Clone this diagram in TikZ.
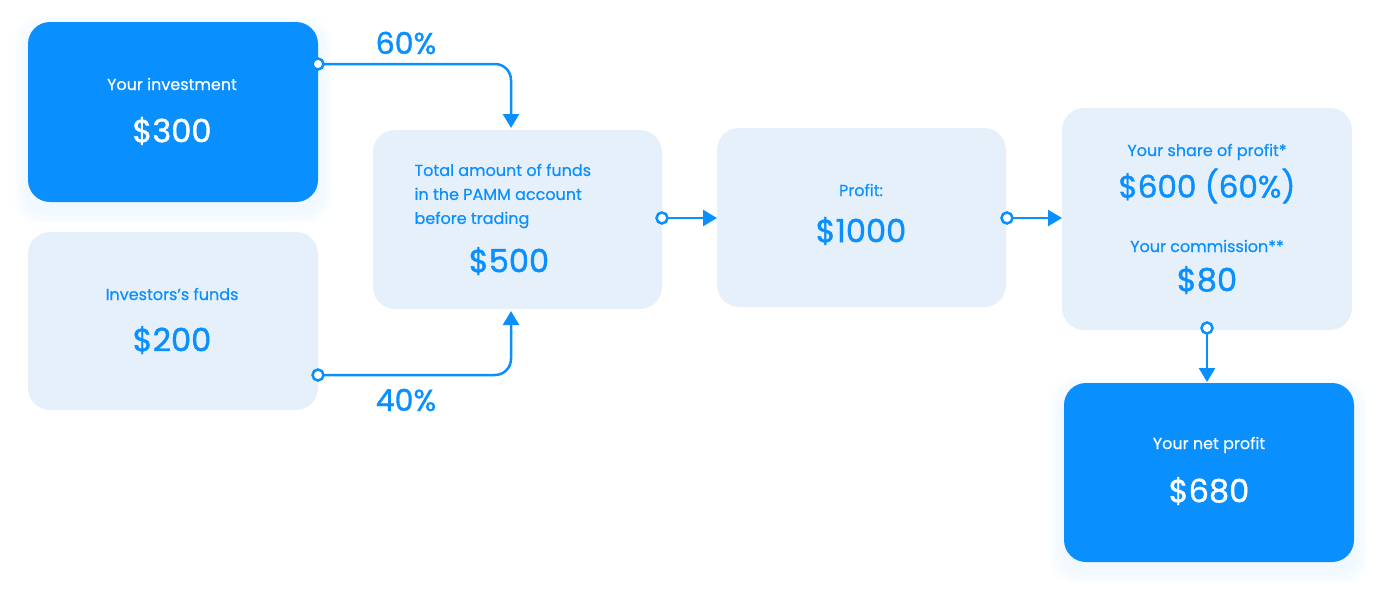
\documentclass[tikz,border=0pt]{standalone}
\usepackage{fontspec}
\setmainfont{Poppins}
\newfontfamily\labelfont{Poppins}[FakeBold=0.5]
\newfontfamily\valuefont{Poppins}[FakeBold=1.2]
\usetikzlibrary{arrows.meta}

\definecolor{pammblue}{HTML}{0A8FFF}
\definecolor{pammlight}{HTML}{E5F0FB}

\tikzset{
  darkbox/.style={fill=pammblue, rounded corners=22pt, inner sep=0pt},
  lightbox/.style={fill=pammlight, rounded corners=22pt, inner sep=0pt},
  flow/.style={draw=pammblue, line width=2.5pt, -{Triangle[width=16pt,length=14pt]}, rounded corners=16pt},
  port/.style={draw=pammblue, fill=white, line width=2.5pt},
  small/.style={font=\labelfont\fontsize{16}{24}\selectfont},
  big/.style={font=\valuefont\fontsize{32}{36}\selectfont},
  pct/.style={font=\valuefont\fontsize{30}{32}\selectfont, text=pammblue},
}

\begin{document}
\begin{tikzpicture}[x=1pt, y=-1pt]
  \useasboundingbox (0,0) rectangle (1382,597);

  % soft glow under the dark boxes
  \foreach \g in {3,6,...,15} {
    \fill[pammblue, opacity=0.012, rounded corners=26pt] (28-\g,22-\g+8) rectangle (318+\g,202+\g+8);
    \fill[pammblue, opacity=0.012, rounded corners=26pt] (1064-\g,383-\g+8) rectangle (1354+\g,562+\g+8);
  }

  % boxes
  \node[darkbox, minimum width=290pt, minimum height=180pt] (invest) at (173,112) {};
  \node[lightbox, minimum width=290pt, minimum height=178pt] (funds) at (173,321) {};
  \node[lightbox, minimum width=289pt, minimum height=179pt] (total) at (517.5,219.5) {};
  \node[lightbox, minimum width=289pt, minimum height=179pt] (profit) at (861.5,217.5) {};
  \node[lightbox, minimum width=290pt, minimum height=222pt] (share) at (1207,219) {};
  \node[darkbox, minimum width=290pt, minimum height=179pt] (net) at (1209,472.5) {};

  % texts
  \node[small, text=white] (investlbl) at (172,84) {Your investment};
  \node[big, text=white] (investval) at (172,131) {\$300};
  \node[small, text=pammblue] (fundslbl) at (172,294) {Investors’s funds};
  \node[big, text=pammblue] (fundsval) at (172,340) {\$200};
  \node[small, text=pammblue, align=left, anchor=west] (totallbl) at (411,196) {Total amount of funds\\in the PAMM account\\before trading};
  \node[big, text=pammblue] (totalval) at (509,261) {\$500};
  \node[small, text=pammblue] (profitlbl) at (861,190) {Profit:};
  \node[big, text=pammblue] (profitval) at (861,231) {\$1000};
  \node[small, text=pammblue] (sharelbl) at (1207,152) {Your share of profit*};
  \node[big, font=\valuefont\fontsize{31}{36}\selectfont, text=pammblue] (shareval) at (1207,186) {\$600 (60\%)};
  \node[small, text=pammblue] (commlbl) at (1207,246) {Your commission**};
  \node[big, text=pammblue] (commval) at (1207,280) {\$80};
  \node[small, text=white] (netlbl) at (1209,445) {Your net profit};
  \node[big, text=white] (netval) at (1209,491) {\$680};

  % connector ends
  \coordinate (investout) at (318,64);
  \coordinate (fundsout) at (318,375);
  \coordinate (totaltop) at (511,128);
  \coordinate (totalbot) at (511,311);
  \coordinate (totalout) at (662,218);
  \coordinate (profitin) at (717,218);
  \coordinate (profitout) at (1007,218);
  \coordinate (sharein) at (1062,218);
  \coordinate (shareout) at (1207,328);
  \coordinate (netin) at (1207,382);

  % connectors
  \draw[flow] (investout) -| (totaltop);
  \draw[flow] (fundsout) -| (totalbot);
  \draw[flow] (totalout) -- (profitin);
  \draw[flow] (profitout) -- (sharein);
  \draw[flow] (shareout) -- (netin);

  \filldraw[port] (investout) circle (5.5);
  \filldraw[port] (fundsout) circle (5.5);
  \filldraw[port] (totalout) circle (5.5);
  \filldraw[port] (profitout) circle (5.5);
  \filldraw[port] (shareout) circle (5.5);

  \node[pct] (sixty) at (406,43) {60\%};
  \node[pct] (forty) at (406,400) {40\%};
\end{tikzpicture}
\end{document}
